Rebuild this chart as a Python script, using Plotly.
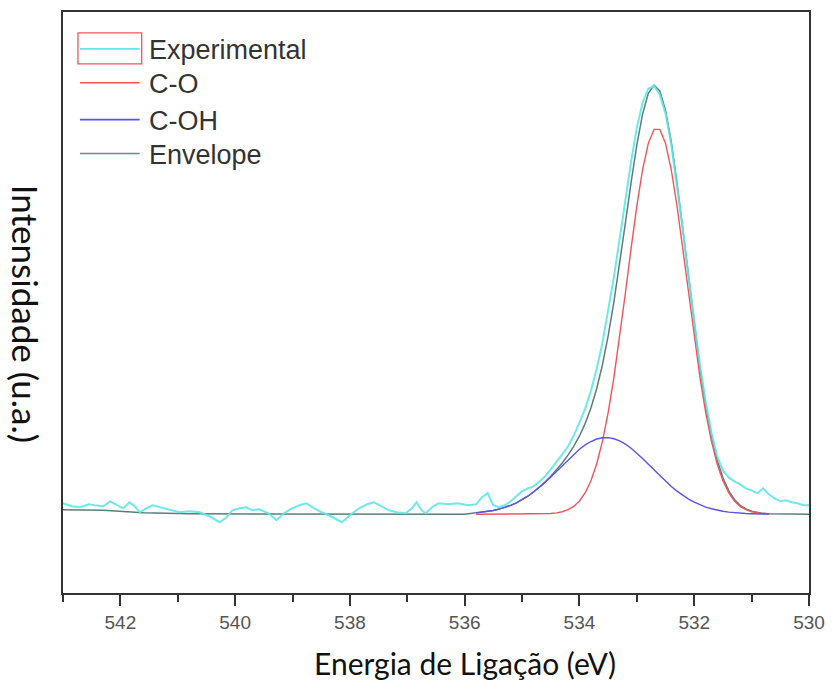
import plotly.graph_objects as go

# ---------------- data ----------------
# Binding energy grid of the fitted components (eV)
fit_energy = [535.8, 535.7, 535.6, 535.5, 535.4, 535.3, 535.2, 535.1, 535.0, 534.9,
              534.8, 534.7, 534.6, 534.5, 534.4, 534.3, 534.2, 534.1, 534.0, 533.9,
              533.8, 533.7, 533.6, 533.5, 533.4, 533.3, 533.2, 533.1, 533.0, 532.9,
              532.8, 532.7, 532.6, 532.5, 532.4, 532.3, 532.2, 532.1, 532.0, 531.9,
              531.8, 531.7, 531.6, 531.5, 531.4, 531.3, 531.2, 531.1, 531.0, 530.9,
              530.8, 530.7]

c_o = [0, 0, 0, 0, 0, 0, 0, 0, 0, 0,
       0.1, 0.15, 0.3, 0.7, 1.35, 2.5, 4.6, 7.9, 13.3, 21.6,
       33.6, 50.5, 73.1, 102.0, 137.2, 177.6, 221.8, 266.8, 309.4, 345.7,
       372.2, 386.2, 386.2, 372.2, 345.7, 309.4, 266.8, 221.8, 177.6, 137.2,
       102.0, 73.1, 50.5, 33.6, 21.6, 13.3, 7.9, 4.6, 2.5, 1.35,
       0.7, 0.3]

c_oh = [1.4, 2.0, 2.8, 3.8, 5.2, 6.8, 8.9, 11.5, 14.6, 18.1,
        22.3, 26.9, 32.0, 37.5, 43.2, 49.0, 54.8, 60.3, 65.3, 69.6,
        73.0, 75.5, 76.8, 76.9, 75.8, 73.6, 70.4, 66.2, 61.3, 55.9,
        50.2, 44.4, 38.6, 33.1, 27.9, 23.2, 18.9, 15.2, 12.1, 9.4,
        7.2, 5.5, 4.1, 3.0, 2.2, 1.5, 1.1, 0.7, 0.5, 0.3,
        0.2, 0.1]

envelope_energy = [543.0, 542.3, 541.6, 540.8, 536.0] + fit_energy + [530.0]
envelope = [4.5, 4.0, 1.5, 0.5, 0.0,
            1.4, 2.0, 2.8, 3.8, 5.2, 6.8, 8.9, 11.5, 14.6, 18.1,
            22.4, 27.1, 32.3, 38.2, 44.6, 51.5, 59.4, 68.2, 78.6, 91.2,
            106.6, 126.0, 149.9, 178.9, 213.0, 251.2, 292.2, 333.0, 370.7, 401.6,
            422.4, 430.6, 424.8, 405.3, 373.6, 332.6, 285.7, 237.0, 189.7, 146.6,
            109.2, 78.6, 54.6, 36.6, 23.8, 14.8, 9.0, 5.3, 3.0, 1.65,
            0.9, 0.4, 0.0]

exp_energy = [543.0, 542.85, 542.7, 542.55, 542.45, 542.3, 542.18, 542.05, 541.95, 541.84,
              541.75, 541.66, 541.55, 541.44, 541.3, 541.19, 541.05, 540.97, 540.8, 540.62,
              540.45, 540.27, 540.15, 540.05, 539.92, 539.81, 539.7, 539.58, 539.42, 539.28,
              539.15, 539.01, 538.88, 538.76, 538.62, 538.49, 538.3, 538.14, 538.0, 537.84,
              537.7, 537.58, 537.45, 537.32, 537.18, 537.03, 536.92, 536.84, 536.75, 536.68,
              536.55, 536.45, 536.3, 536.11, 535.95,
              535.8, 535.7, 535.6, 535.5, 535.4, 535.3, 535.2, 535.1, 535.0, 534.9,
              534.8, 534.7, 534.6, 534.5, 534.4, 534.3, 534.2, 534.1, 534.0, 533.9,
              533.8, 533.7, 533.6, 533.5, 533.4, 533.3, 533.2, 533.1, 533.0, 532.9,
              532.8, 532.7, 532.6, 532.5, 532.4, 532.3, 532.2, 532.1, 532.0, 531.9,
              531.8, 531.7, 531.6, 531.5, 531.4, 531.3, 531.2, 531.1, 531.0, 530.9,
              530.8, 530.7, 530.6, 530.5, 530.4, 530.3, 530.2, 530.1, 530.0]
experimental = [11, 8, 7, 10, 9, 8, 13, 9, 6, 12,
                8, 2, 6, 9, 7, 5, 3, 2, 3, 2,
                -2, -8, -3, 4, 6, 7, 4, 5, 1, -6,
                1, 6, 9, 11, 6, 2, -3, -8, -1, 6,
                10, 12, 8, 4, 2, 1, 6, 12, 4, 1,
                8, 11, 10, 11, 9,
                10, 17, 21, 9, 7, 9, 13, 18, 23, 26,
                28, 33, 38, 45, 52, 60, 68, 79, 92, 106,
                124, 146, 172, 203, 238, 276, 316, 354, 388, 413,
                427, 430, 421, 402, 371, 331, 286, 238, 192, 150,
                113, 82, 58, 44, 37, 33, 30, 26, 24, 21,
                26, 20, 16, 13, 14, 12, 11, 9, 9]

x_ticks = [542, 540, 538, 536, 534, 532, 530]

# ---------------- figure ----------------
CYAN = "#5ee8e6"
RED = "#f2545b"
BLUE = "#5a54e6"
ENV = "rgba(60,105,100,0.85)"

fig = go.Figure()
fig.add_trace(go.Scatter(x=envelope_energy, y=envelope, mode="lines",
                         line=dict(color=ENV, width=1.5), name="Envelope"))
fig.add_trace(go.Scatter(x=fit_energy, y=c_o, mode="lines",
                         line=dict(color=RED, width=1.4), name="C-O"))
fig.add_trace(go.Scatter(x=fit_energy, y=c_oh, mode="lines",
                         line=dict(color=BLUE, width=1.4), name="C-OH"))
fig.add_trace(go.Scatter(x=exp_energy, y=experimental, mode="lines",
                         line=dict(color=CYAN, width=2), opacity=0.9,
                         name="Experimental"))

# plot area in pixels: x 63..812, y 10..593
L, R, T, B = 63, 812, 10, 593
W, H = R - L, B - T


def px(xp):
    return (xp - L) / W


def py(yp):
    return (B - yp) / H


shapes = []
annotations = []
# legend (manual, top-left inside the frame)
legend_items = [("Experimental", CYAN, 47), ("C-O", RED, 81),
                ("C-OH", BLUE, 118), ("Envelope", "#5f8f88", 152)]
shapes.append(dict(type="rect", xref="paper", yref="paper",
                   x0=px(78), x1=px(142), y0=py(62), y1=py(31),
                   line=dict(color=RED, width=1.3), fillcolor="rgba(0,0,0,0)"))
for name, col, yy in legend_items:
    shapes.append(dict(type="line", xref="paper", yref="paper",
                       x0=px(80), x1=px(140), y0=py(yy), y1=py(yy),
                       line=dict(color=col, width=1.6)))
    annotations.append(dict(text=name, xref="paper", yref="paper",
                            x=px(147), y=py(yy + 1), xanchor="left", yanchor="middle",
                            showarrow=False,
                            font=dict(family="Arial", size=27, color="#333333")))

# axis titles
annotations.append(dict(text="Energia de Ligação (eV)", xref="paper", yref="paper",
                        x=px(467), y=py(663), xanchor="center", yanchor="middle",
                        showarrow=False,
                        font=dict(family="Lato", size=30, color="#111111")))
annotations.append(dict(text="Intensidade (u.a.)", xref="paper", yref="paper",
                        x=px(26), y=py(313), xanchor="center", yanchor="middle",
                        textangle=90, showarrow=False,
                        font=dict(family="Lato", size=35, color="#111111")))

fig.update_layout(
    width=835, height=686,
    margin=dict(l=L, r=835 - R, t=T, b=686 - B),
    paper_bgcolor="white", plot_bgcolor="white",
    showlegend=False,
    shapes=shapes, annotations=annotations,
    xaxis=dict(range=[543, 530], tickmode="array", tickvals=x_ticks,
               ticktext=[str(v) for v in x_ticks],
               ticks="outside", ticklen=11, tickwidth=2, tickcolor="#333333",
               minor=dict(ticks="outside", dtick=1, tick0=530, ticklen=7,
                          tickwidth=2, tickcolor="#333333", showgrid=False),
               showline=True, linecolor="#333333", linewidth=2, mirror=True,
               showgrid=False, zeroline=False),
    yaxis=dict(range=[-79, 504], showticklabels=False, ticks="",
               showline=True, linecolor="#333333", linewidth=2, mirror=True,
               showgrid=False, zeroline=False),
)
fig.update_xaxes(tickfont=dict(family="Arial", size=19, color="#555555"))

fig.write_html("out.html")
